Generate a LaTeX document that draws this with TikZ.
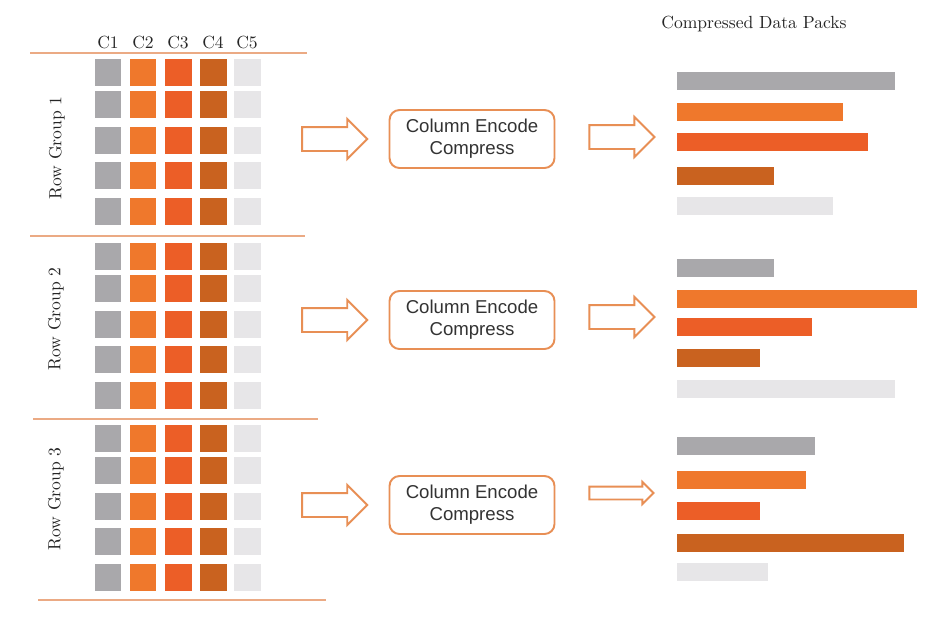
\documentclass[tikz,border=0pt]{standalone}
\usepackage{fontspec}
\newfontfamily\encfont{Liberation Sans}
\usetikzlibrary{positioning,shapes.arrows}

\definecolor{packgray}{HTML}{A9A8AB}
\definecolor{packorange}{HTML}{EF782C}
\definecolor{packred}{HTML}{EC5E27}
\definecolor{packbrown}{HTML}{C9621F}
\definecolor{packlight}{HTML}{E7E6E8}
\definecolor{rulecolor}{HTML}{EBAA84}
\definecolor{edgeorange}{HTML}{E88F55}

\begin{document}
\begin{tikzpicture}[
    x=0.02cm, y=-0.02cm,
    cell/.style={rectangle, minimum size=0.54cm, inner sep=0pt},
    colhead/.style={font=\normalsize, text=black!85},
    group label/.style={rotate=90, font=\normalsize, text=black!85},
    row rule/.style={draw=rulecolor, line width=0.9pt},
    encoder/.style={rectangle, rounded corners=0.2cm, draw=edgeorange, line width=1.1pt,
        minimum width=3.3cm, minimum height=1.16cm, align=center, text=black!80,
        font=\encfont\fontsize{10.6}{12.5}\selectfont},
    hollow arrow/.style={single arrow, draw=edgeorange, line width=1.1pt, fill=white,
        inner sep=0.22cm, single arrow head extend=0.16cm, minimum height=1.3cm},
    thin arrow/.style={hollow arrow, inner sep=0.11cm, single arrow head extend=0.09cm,
        minimum height=1.28cm}
]
\useasboundingbox[fill=white] (0,0) rectangle (946,627);

% column headers and row group rules
\foreach \c/\x in {1/108, 2/143, 3/178, 4/213, 5/247}
    \node[colhead] (h\c) at (\x,42) {C\c};
\draw[row rule] (30,53) -- (307,53);
\draw[row rule] (30,236) -- (305,236);
\draw[row rule] (33,419) -- (318,419);
\draw[row rule] (38,600) -- (326,600);

% cells
\foreach \g/\y in {1/72, 2/256, 3/438}
  \foreach \r/\dy in {1/0, 2/32, 3/68, 4/103, 5/139}
    \foreach \c/\x/\col in {1/108/packgray, 2/143/packorange, 3/178/packred, 4/213/packbrown, 5/247/packlight}
      \node[cell, fill=\col] (g\g r\r c\c) at (\x,\y+\dy) {};

\node[group label] (rg1) at (57,148) {Row Group 1};
\node[group label] (rg2) at (56,319) {Row Group 2};
\node[group label] (rg3) at (56,499) {Row Group 3};

% encoders with arrows
\node[encoder] (enc1) at (472,139) {Column Encode\\Compress};
\node[encoder] (enc2) at (472,320) {Column Encode\\Compress};
\node[encoder] (enc3) at (472,505) {Column Encode\\Compress};

\node[hollow arrow, left=0.4cm of enc1] (in1) {};
\node[hollow arrow, left=0.4cm of enc2] (in2) {};
\node[hollow arrow, left=0.4cm of enc3] (in3) {};
\node[hollow arrow, right=0.66cm of enc1, yshift=0.04cm] (out1) {};
\node[hollow arrow, right=0.66cm of enc2, yshift=0.06cm] (out2) {};
\node[thin arrow, right=0.66cm of enc3, yshift=0.24cm] (out3) {};

% compressed packs
\node[text=black!85] (title) at (754,24) {Compressed Data Packs};
\foreach \t/\e/\col in {72/895/packgray, 103/843/packorange, 133/868/packred, 167/774/packbrown, 197/833/packlight,
                        259/774/packgray, 290/917/packorange, 318/812/packred, 349/760/packbrown, 380/895/packlight,
                        437/815/packgray, 471/806/packorange, 502/760/packred, 534/904/packbrown, 563/768/packlight}
    \fill[\col] (677,\t) rectangle (\e,\t+18);
\end{tikzpicture}
\end{document}
